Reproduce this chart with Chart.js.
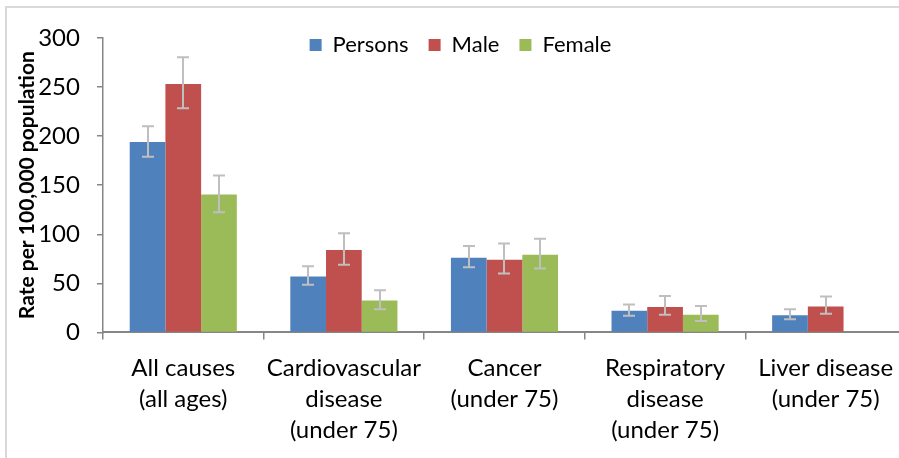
<!DOCTYPE html>
<html>
<head>
  <script src="https://cdn.jsdelivr.net/npm/chart.js"></script>
  <style>
    body { margin: 0; overflow: hidden; background: #fff; }
    #frame { position: absolute; left: 5px; top: 6px; width: 1000px; height: 1000px;
             border-left: 2px solid #d9d9d9; border-top: 2px solid #d9d9d9; }
    #chart { position: absolute; left: 0; top: 0; }
  </style>
</head>
<body>
  <div id="frame"></div>
  <canvas id="chart" width="910" height="458"></canvas>

  <script>
    const categories = [
      ['All causes', '(all ages)'],
      ['Cardiovascular', 'disease', '(under 75)'],
      ['Cancer', '(under 75)'],
      ['Respiratory', 'disease', '(under 75)'],
      ['Liver disease', '(under 75)']
    ];

    const persons     = [194, 57, 76, 22, 17.5];
    const personsLow  = [179, 48.5, 66.5, 17, 13.5];
    const personsHigh = [210, 67.5, 88, 28.5, 23.5];

    const male     = [253, 84, 74, 26, 26.5];
    const maleLow  = [228.5, 69, 60, 18, 19];
    const maleHigh = [280.5, 101, 90.5, 37, 36.5];

    const female     = [140.5, 32.5, 79, 18, null];
    const femaleLow  = [122.5, 23.5, 65, 11.5, null];
    const femaleHigh = [160, 43, 95.5, 27, null];

    const yTicks = [0, 50, 100, 150, 200, 250, 300];

    // draws the error bars from the low/high arrays
    const errorBars = {
      id: 'errorBars',
      afterDatasetsDraw(chart) {
        const ctx = chart.ctx;
        const y = chart.scales.y;
        ctx.save();
        ctx.strokeStyle = '#BFBFBF';
        ctx.lineWidth = 2;
        chart.data.datasets.forEach((ds, i) => {
          const meta = chart.getDatasetMeta(i);
          meta.data.forEach((bar, j) => {
            const lo = ds.errLow[j], hi = ds.errHigh[j];
            if (lo == null || hi == null) return;
            const yLo = y.getPixelForValue(lo);
            const yHi = y.getPixelForValue(hi);
            const x = Math.round(bar.x);
            ctx.beginPath();
            ctx.moveTo(x, yLo); ctx.lineTo(x, yHi);
            ctx.moveTo(x - 6, yLo); ctx.lineTo(x + 6, yLo);
            ctx.moveTo(x - 6, yHi); ctx.lineTo(x + 6, yHi);
            ctx.stroke();
          });
        });
        ctx.restore();
      }
    };

    // legend sits over the plot like in Excel: small box for layout, then moved down
    const legendOverlay = {
      id: 'legendOverlay',
      beforeInit(chart) {
        const fit = chart.legend.fit;
        chart.legend.fit = function () {
          fit.bind(chart.legend)();
          this.height = 38;
        };
      },
      afterLayout(chart) {
        const lg = chart.legend;
        lg.top += 14;
        lg.bottom = lg.top + 60;
      }
    };

    const font = 'Lato';

    new Chart(document.getElementById('chart'), {
      type: 'bar',
      data: {
        labels: categories,
        datasets: [
          { label: 'Persons', data: persons, errLow: personsLow, errHigh: personsHigh, backgroundColor: '#4F81BD' },
          { label: 'Male', data: male, errLow: maleLow, errHigh: maleHigh, backgroundColor: '#C0504D' },
          { label: 'Female', data: female, errLow: femaleLow, errHigh: femaleHigh, backgroundColor: '#9BBB59' }
        ]
      },
      options: {
        responsive: false,
        animation: false,
        layout: { padding: { left: 15, right: 4, top: 0, bottom: -1 } },
        datasets: { bar: { categoryPercentage: 0.667, barPercentage: 1.0 } },
        scales: {
          x: {
            grid: { drawOnChartArea: false, tickLength: 7, tickColor: '#868686', lineWidth: 1.5 },
            border: { color: '#868686', width: 2 },
            ticks: {
              color: '#000', maxRotation: 0, autoSkip: false, padding: 13,
              font: { family: font, size: 24, lineHeight: 1.3 }
            }
          },
          y: {
            min: 0, max: 300,
            afterBuildTicks: (axis) => { axis.ticks = yTicks.map(v => ({ value: v })); },
            grid: { drawOnChartArea: false, tickLength: 6, tickColor: '#868686', lineWidth: 1.5 },
            border: { color: '#868686', width: 1.5 },
            ticks: { color: '#000', padding: 17, font: { family: font, size: 24 } },
            title: {
              display: true, text: 'Rate per 100,000 population', color: '#000',
              font: { family: font, size: 21, weight: 'bold' }, padding: { top: 0, bottom: -19 }
            }
          }
        },
        plugins: {
          tooltip: { enabled: false },
          legend: {
            position: 'top',
            labels: {
              color: '#000', boxWidth: 12, boxHeight: 12, padding: 20,
              font: { family: font, size: 22 }
            }
          }
        }
      },
      plugins: [errorBars, legendOverlay]
    });
  </script>
</body>
</html>
